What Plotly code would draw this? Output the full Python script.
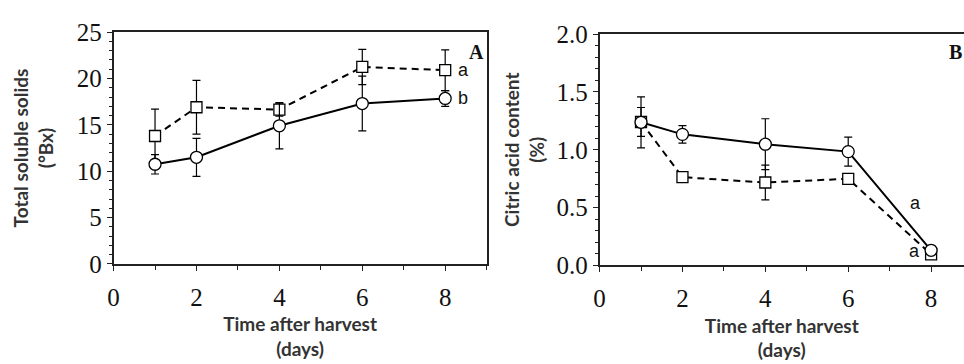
import plotly.graph_objects as go

days = [1, 2, 4, 6, 8]

# Panel A: total soluble solids (°Bx)
tss_circle = [10.75, 11.5, 14.9, 17.3, 17.85]
tss_circle_err = [1.05, 2.05, 2.5, 2.95, 0.85]
tss_square = [13.8, 16.9, 16.65, 21.25, 20.9]
tss_square_err = [2.9, 2.9, 0.7, 1.9, 2.2]

# Panel B: citric acid content (%)
ca_circle = [1.237, 1.133, 1.048, 0.984, 0.131]
ca_circle_err = [0.22, 0.075, 0.22, 0.125, 0.0]
ca_square = [1.24, 0.763, 0.717, 0.749, 0.096]
ca_square_err = [0.125, 0.0, 0.15, 0.04, 0.0]

x_ticks = [0, 2, 4, 6, 8]
tss_ticks = [0, 5, 10, 15, 20, 25]
ca_ticks = [0.0, 0.5, 1.0, 1.5, 2.0]

AX = "#222222"
TITLE_FONT = dict(family="Lato", size=19, color="#333333")
TICK_FONT = dict(family="Liberation Serif", size=25, color="#111111")

fig = go.Figure()


def add_series(xa, ya, yvals, errs, symbol, dash, size):
    fig.add_trace(go.Scatter(
        x=days, y=yvals, xaxis=xa, yaxis=ya, mode="lines+markers",
        line=dict(color="black", width=2, dash=dash),
        marker=dict(symbol=symbol, size=size, color="white",
                    line=dict(color="black", width=1.3)),
        error_y=dict(type="data", array=errs, visible=True,
                     color="black", thickness=1.2, width=4),
        showlegend=False,
    ))


add_series("x", "y", tss_square, tss_square_err, "square", "7px,5px", 11)
add_series("x", "y", tss_circle, tss_circle_err, "circle", "solid", 12)
add_series("x2", "y2", ca_square, ca_square_err, "square", "7px,5px", 11)
add_series("x2", "y2", ca_circle, ca_circle_err, "circle", "solid", 12)

common_x = dict(
    showline=True, linecolor=AX, linewidth=1.5, mirror=True,
    showgrid=False, zeroline=False,
    ticks="outside", ticklen=5, tickwidth=1.2, tickcolor=AX,
    tickvals=x_ticks, tickfont=TICK_FONT, ticklabelstandoff=5,
    minor=dict(dtick=1, tick0=0, ticks="outside", ticklen=4, tickcolor=AX, tickwidth=1),
    title=dict(text="<b>Time after harvest<br>(days)</b>", font=TITLE_FONT, standoff=8),
)

fig.update_layout(
    width=964, height=364,
    margin=dict(l=0, r=0, t=0, b=0),
    paper_bgcolor="white", plot_bgcolor="white",
    xaxis=dict(domain=[0.1123, 0.5017], range=[0, 9], anchor="y", **common_x),
    xaxis2=dict(domain=[0.6196, 1.0], range=[0, 8.794], anchor="y2", **common_x),
    yaxis=dict(
        domain=[0.2555, 0.9431], range=[0, 25], anchor="x",
        showline=True, linecolor=AX, linewidth=1.5, mirror=True,
        showgrid=False, zeroline=False,
        ticks="outside", ticklen=5, tickwidth=1.2, tickcolor=AX,
        tickvals=tss_ticks, tickfont=TICK_FONT,
        minor=dict(dtick=1, tick0=0, ticks="outside", ticklen=3, tickcolor=AX, tickwidth=1),
        title=dict(text="<b>Total soluble solids<br>(°Bx)</b>", font=TITLE_FONT, standoff=18),
    ),
    yaxis2=dict(
        domain=[0.2508, 0.9376], range=[0, 2.0], anchor="x2",
        showline=True, linecolor=AX, linewidth=1.5, mirror=False,
        showgrid=False, zeroline=False,
        ticks="outside", ticklen=5, tickwidth=1.2, tickcolor=AX,
        tickvals=ca_ticks, tickformat=".1f", tickfont=TICK_FONT,
        minor=dict(dtick=0.1, tick0=0, ticks="outside", ticklen=3, tickcolor=AX, tickwidth=1),
        title=dict(text="<b>Citric acid content<br>(%)</b>", font=TITLE_FONT, standoff=7),
    ),
)

letter_font = dict(family="Liberation Sans", size=18, color="#111111")
panel_font = dict(family="Liberation Serif", size=20, color="#111111")
annos = [
    dict(x=8.75, y=22.9, xref="x", yref="y", text="<b>A</b>", font=panel_font),
    dict(x=8.6, y=1.846, xref="x2", yref="y2", text="<b>B</b>", font=panel_font),
    dict(x=8.43, y=20.9, xref="x", yref="y", text="a", font=letter_font),
    dict(x=8.43, y=17.9, xref="x", yref="y", text="b", font=letter_font),
    dict(x=7.62, y=0.54, xref="x2", yref="y2", text="a", font=letter_font),
    dict(x=7.59, y=0.126, xref="x2", yref="y2", text="a", font=letter_font),
]
for a in annos:
    fig.add_annotation(showarrow=False, **a)

fig.write_html("out.html")
